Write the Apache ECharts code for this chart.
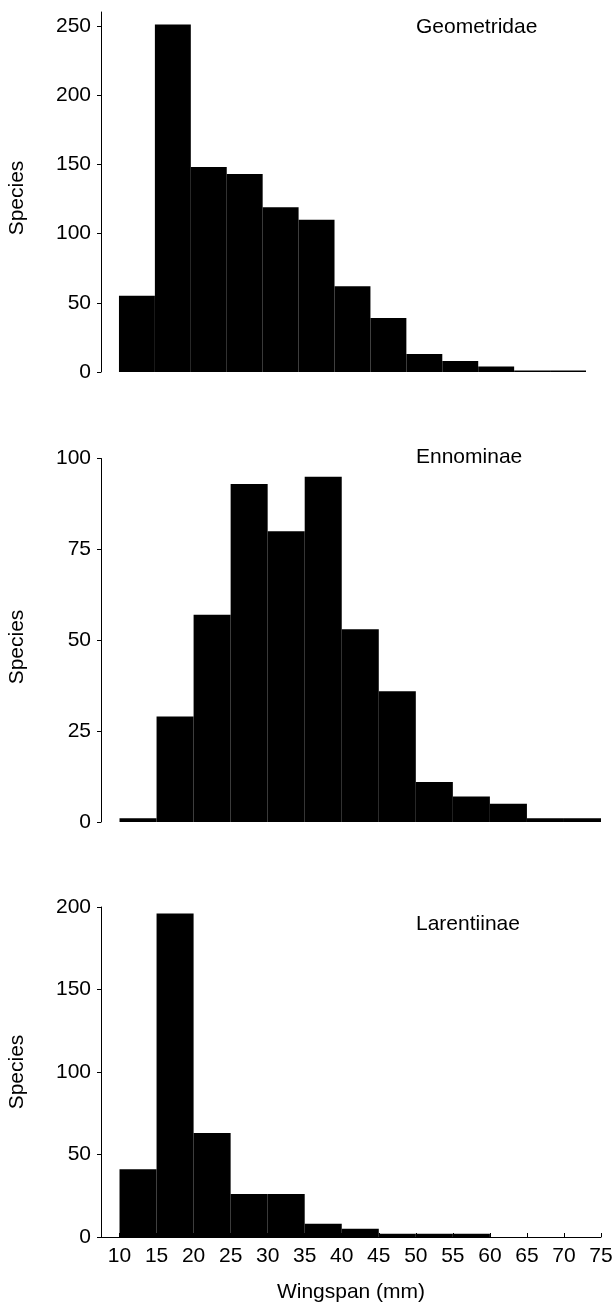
<!DOCTYPE html>
<html>
<head>
<meta charset="utf-8">
<script src="https://cdn.jsdelivr.net/npm/echarts@6/dist/echarts.min.js"></script>
<style>
html,body{margin:0;padding:0;background:#fff;}
#chart{width:616px;height:1305px;}
</style>
</head>
<body>
<div id="chart"></div>
<script>
// ---- data ----
const binEdges = [10, 15, 20, 25, 30, 35, 40, 45, 50, 55, 60, 65, 70, 75];
const panelNames = ['Geometridae', 'Ennominae', 'Larentiinae'];
const geometridae = [55, 251, 148, 143, 119, 110, 62, 39, 13, 8, 4, 1, 1];
const ennominae   = [1, 29, 57, 93, 80, 95, 53, 36, 11, 7, 5, 1, 1];
const larentiinae = [41, 196, 63, 26, 26, 8, 5, 2, 2, 2, 0, 0, 0];
const xTickLabels = [10, 15, 20, 25, 30, 35, 40, 45, 50, 55, 60, 65, 70, 75];
const yTicksTop    = [0, 50, 100, 150, 200, 250];
const yTicksMiddle = [0, 25, 50, 75, 100];
const yTicksBottom = [0, 50, 100, 150, 200];
const yAxisName = 'Species';
const xAxisName = 'Wingspan (mm)';

// ---- styling ----
const FONT = '"Liberation Sans", Arial, Helvetica, sans-serif';
const FS = 21;

function histData(values) {
  return values.map((v, i) => [binEdges[i], binEdges[i + 1], v]);
}

function renderBar(params, api) {
  const x0 = api.value(0), x1 = api.value(1), v = api.value(2);
  if (!v) return null;
  const p0 = api.coord([x0, v]);
  const p1 = api.coord([x1, 0]);
  return {
    type: 'rect',
    shape: { x: p0[0], y: p0[1], width: p1[0] - p0[0], height: p1[1] - p0[1] },
    style: { fill: '#000' }
  };
}

const grids = [
  { left: 101, width: 485, top: 12, height: 360 },
  { left: 101, width: 500, top: 458.5, height: 363.5 },
  { left: 101, width: 500, top: 907, height: 330 }
];
const yMax = [260, 100, 200];
const yTicks = [yTicksTop, yTicksMiddle, yTicksBottom];
const series = [geometridae, ennominae, larentiinae];

const xAxes = grids.map((g, i) => {
  const shown = i === 2;
  return {
    type: 'value', gridIndex: i, min: 7.5, max: 75,
    show: shown,
    splitLine: { show: false },
    axisLine: { show: shown, onZero: false, lineStyle: { color: '#000', width: 1 } },
    axisTick: { show: shown, inside: true, length: 4, customValues: xTickLabels, lineStyle: { color: '#000' } },
    axisLabel: { show: shown, customValues: xTickLabels, margin: 9, color: '#000', fontSize: FS, fontFamily: FONT },
    name: shown ? xAxisName : '',
    nameLocation: 'middle', nameGap: 45,
    nameTextStyle: { color: '#000', fontSize: FS, fontFamily: FONT }
  };
});

const yAxes = grids.map((g, i) => ({
  type: 'value', gridIndex: i, min: 0, max: yMax[i],
  splitLine: { show: false },
  axisLine: { show: true, lineStyle: { color: '#000', width: 1 } },
  axisTick: { show: true, length: 4, customValues: yTicks[i], lineStyle: { color: '#000' } },
  axisLabel: { customValues: yTicks[i], margin: 10, color: '#000', fontSize: FS, fontFamily: FONT }
}));

const speciesY = [198, 647, 1072];
const titleY = [27.5, 457.5, 924];

const graphics = [];
panelNames.forEach((n, i) => {
  graphics.push({
    type: 'text', x: 416, y: titleY[i],
    style: { text: n, font: FS + 'px ' + FONT, fill: '#000', textAlign: 'left', textVerticalAlign: 'middle', verticalAlign: 'middle' }
  });
  graphics.push({
    type: 'text', x: 17, y: speciesY[i], rotation: Math.PI / 2,
    style: { text: yAxisName, font: FS + 'px ' + FONT, fill: '#000', textAlign: 'center', textVerticalAlign: 'middle', verticalAlign: 'middle', align: 'center' }
  });
});

const option = {
  backgroundColor: '#fff',
  animation: false,
  grid: grids,
  xAxis: xAxes,
  yAxis: yAxes,
  graphic: graphics,
  series: series.map((vals, i) => ({
    type: 'custom',
    name: panelNames[i],
    xAxisIndex: i, yAxisIndex: i,
    renderItem: renderBar,
    encode: { x: [0, 1], y: 2 },
    data: histData(vals)
  }))
};

const chart = echarts.init(document.getElementById('chart'), null, { renderer: 'canvas' });
chart.setOption(option);
</script>
</body>
</html>
